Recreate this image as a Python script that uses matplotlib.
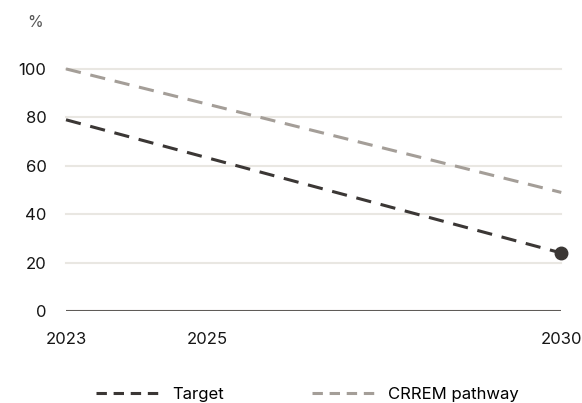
import matplotlib.pyplot as plt
from matplotlib.lines import Line2D

plt.rcParams["font.family"] = ["Inter", "DejaVu Sans"]

years = [2023, 2030]
target = [79, 24]
crrem = [100, 49]
xticks = [2023, 2025, 2030]
yticks = [0, 20, 40, 60, 80, 100]

dark = "#3b3735"
light = "#a49e98"

fig = plt.figure(figsize=(5.82, 4.03), dpi=100)
ax = fig.add_axes([0.1134, 0.228, 0.851, 0.601])

for y in yticks[1:]:
    ax.axhline(y, color="#e9e7e2", lw=1.5, zorder=0, clip_on=False)
ax.axhline(0, color="#5f5b58", lw=1.5, zorder=1)

ax.plot(years, crrem, color=light, lw=2.2, dashes=(5, 3.2), clip_on=False, zorder=2)
ax.plot(years, target, color=dark, lw=2.2, dashes=(5, 3.2), clip_on=False, zorder=3)
ax.plot(years[-1], target[-1], "o", color=dark, ms=9, clip_on=False, zorder=4)

ax.set_xlim(2023, 2030)
ax.set_ylim(0, 100)
ax.set_xticks(xticks)
ax.set_yticks(yticks)
ax.tick_params(length=0, labelsize=12, labelcolor="#161616")
ax.tick_params(axis="x", pad=15)
ax.tick_params(axis="y", pad=14)
for s in ax.spines.values():
    s.set_visible(False)

fig.text(0.06, 0.943, "%", fontsize=11.5, color="#555555", ha="center", va="center")

handles = [
    Line2D([], [], color=dark, lw=2.2, dashes=(3.4, 2.2)),
    Line2D([], [], color=light, lw=2.2, dashes=(3.4, 2.2)),
]
fig.legend(handles, ["Target", "CRREM pathway"], loc="center",
           bbox_to_anchor=(0.528, 0.022), ncol=2, frameon=False, fontsize=12,
           handlelength=3.9, columnspacing=5.3, handletextpad=0.66)

fig.savefig("out.png", dpi=100)
